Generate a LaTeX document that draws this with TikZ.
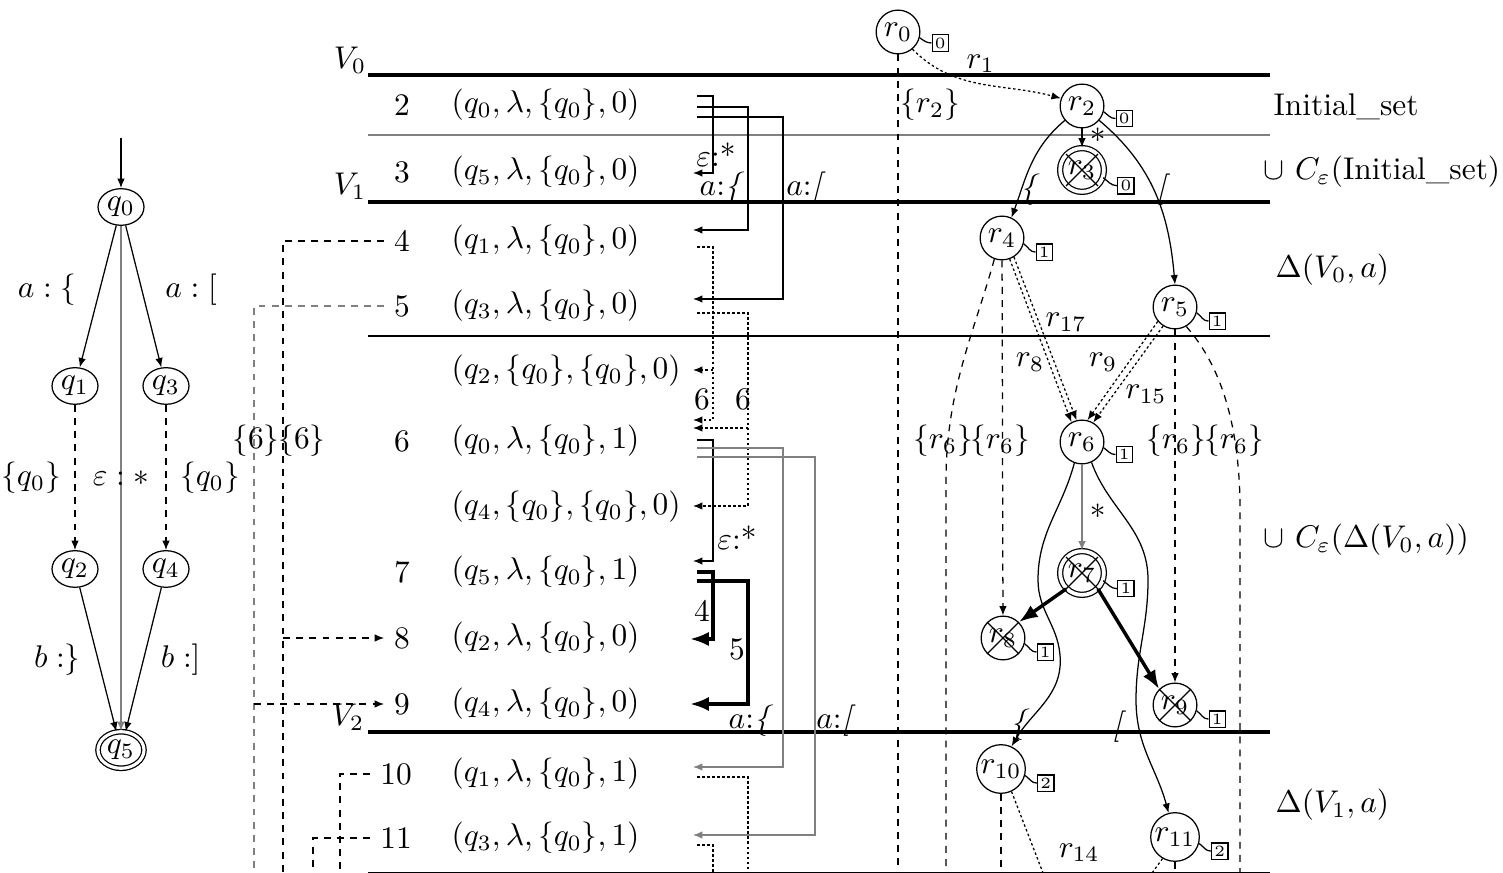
\documentclass[tikz,border=0pt]{standalone}
\usepackage{tikz}
\usetikzlibrary{arrows.meta,positioning,calc,shapes.geometric}

\begin{document}
\begin{tikzpicture}[
    x=0.0112cm, y=-0.0112cm,
    >={Latex[length=3pt,width=2.4pt]},
    st/.style={ellipse, draw, minimum width=0.515cm, minimum height=0.41cm, inner sep=0.5pt},
    fin/.style={st, double, double distance=1pt},
    run/.style={circle, draw, minimum size=0.49cm, inner sep=0.5pt},
    acc/.style={run, double, double distance=1.2pt},
    tag/.style={draw, font=\tiny, inner sep=0.9pt, minimum size=5pt},
    tie/.style={out=-35, in=180},
    level/.style={line width=1pt},
    num/.style={inner sep=3pt},
    row/.style={anchor=west, inner sep=0pt},
    side/.style={anchor=west, inner sep=0pt},
    hop/.style={dash pattern=on 2.2pt off 2pt},
    link/.style={dash pattern=on 0.8pt off 0.8pt},
    win/.style={-{Latex[length=6pt,width=4.5pt]}, line width=1.1pt}
]
\useasboundingbox (0,0) rectangle (1503,873);

% automaton
\node[st] (q0) at (121,207) {$q_0$};
\node[st] (q1) at (75,386) {$q_1$};
\node[st] (q3) at (166,386) {$q_3$};
\node[st] (q2) at (75,569) {$q_2$};
\node[st] (q4) at (166,569) {$q_4$};
\node[fin] (q5) at (121,750) {$q_5$};
\coordinate (q0in) at (121,138);

\draw[->] (q0in) -- (q0);
\draw[->] (q0) -- node[left=4pt, pos=0.45] {$a:\{$} (q1);
\draw[->] (q0) -- node[right=4pt, pos=0.45] {$a:[$} (q3);
\draw[->, draw=gray] (q0) -- node {$\varepsilon : *$} (q5);
\draw[->, hop] (q1) -- node[left=1pt] {$\{q_0\}$} (q2);
\draw[->, hop] (q3) -- node[right=1pt] {$\{q_0\}$} (q4);
\draw[->] (q2) -- node[left=2pt] {$b:\}$} (q5);
\draw[->] (q4) -- node[right=2pt] {$b:]$} (q5);

% levels
\draw[level] (368,75) -- (1270,75);
\draw[gray] (368,135) -- (1270,135);
\draw[level] (368,202) -- (1270,202);
\draw (368,336) -- (1270,336);
\draw[level] (368,732) -- (1270,732);
\draw (368,873) -- (1270,873);
\node (v0) at (350,60) {$V_0$};
\node (v1) at (350,186) {$V_1$};
\node (v2) at (348,717) {$V_2$};

% rows
\node[num] (n2) at (402,105) {2};
\node[num] (n3) at (402,172) {3};
\node[num] (n4) at (402,241) {4};
\node[num] (n5) at (402,306) {5};
\node[num] (n6) at (402,441) {6};
\node[num] (n7) at (402,572) {7};
\node[num] (n8) at (402,638) {8};
\node[num] (n9) at (402,704) {9};
\node[num] (n10) at (396,774) {10};
\node[num] (n11) at (396,838) {11};

\node[row] (t2) at (451,105) {$(q_0, \lambda, \{q_0\}, 0)$};
\node[row] (t3) at (451,172) {$(q_5, \lambda, \{q_0\}, 0)$};
\node[row] (t4) at (451,241) {$(q_1, \lambda, \{q_0\}, 0)$};
\node[row] (t5) at (451,306) {$(q_3, \lambda, \{q_0\}, 0)$};
\node[row] (ta) at (451,371) {$(q_2, \{q_0\}, \{q_0\}, 0)$};
\node[row] (t6) at (451,441) {$(q_0, \lambda, \{q_0\}, 1)$};
\node[row] (tb) at (451,507) {$(q_4, \{q_0\}, \{q_0\}, 0)$};
\node[row] (t7) at (451,572) {$(q_5, \lambda, \{q_0\}, 1)$};
\node[row] (t8) at (451,638) {$(q_2, \lambda, \{q_0\}, 0)$};
\node[row] (t9) at (451,704) {$(q_4, \lambda, \{q_0\}, 0)$};
\node[row] (t10) at (451,774) {$(q_1, \lambda, \{q_0\}, 1)$};
\node[row] (t11) at (451,838) {$(q_3, \lambda, \{q_0\}, 1)$};

% ports
\coordinate (o2a) at (697,96);
\coordinate (o2b) at (697,107);
\coordinate (o2c) at (697,117);
\coordinate (o4) at (697,247);
\coordinate (o5) at (697,313);
\coordinate (o6a) at (697,440);
\coordinate (o6b) at (697,448);
\coordinate (o6c) at (697,457);
\coordinate (o7a) at (697,572);
\coordinate (o7b) at (697,581);
\coordinate (o10) at (697,777);
\coordinate (o11) at (697,845);
\coordinate (i3) at (693,173);
\coordinate (i4) at (693,230);
\coordinate (i5) at (693,299);
\coordinate (ia) at (693,370);
\coordinate (i6a) at (693,420);
\coordinate (i6b) at (693,428);
\coordinate (ib) at (693,506);
\coordinate (i7) at (693,561);
\coordinate (i8) at (690,639);
\coordinate (i9) at (690,704);
\coordinate (i10) at (693,767);
\coordinate (i11) at (693,835);

\draw[->] (o2a) -| ($(i3)+(20,0)$) -- (i3);
\draw[->] (o2b) -| ($(i4)+(55,0)$) -- (i4);
\draw[->] (o2c) -| ($(i5)+(90,0)$) -- (i5);
\draw[->, link] (o4) -| ($(i6a)+(20,0)$) -- (i6a);
\draw[->, link] ($(ia)+(20,0)$) -- (ia);
\draw[->, link] (o5) -| ($(ib)+(55,0)$) -- (ib);
\draw[->, link] ($(i6b)+(55,0)$) -- (i6b);
\draw[->] (o6a) -| ($(i7)+(20,0)$) -- (i7);
\draw[->, gray] (o6b) -| ($(i10)+(90,0)$) -- (i10);
\draw[->, gray] (o6c) -| ($(i11)+(122,0)$) -- (i11);
\draw[win] (o7a) -| ($(i8)+(23,0)$) -- (i8);
\draw[win] (o7b) -| ($(i9)+(58,0)$) -- (i9);
\draw[link] (o10) -| (748,873);
\draw[link] (o11) -| (713,873);

\node at (716,155) {$\varepsilon$:*};
\node at (737,538) {$\varepsilon$:*};
\node at (702,399) {6};
\node at (743,399) {6};
\node at (702,611) {4};
\node at (737,649) {5};
\node at (722,188) {$a{:}$\textit{\{}};
\node at (806,188) {$a{:}$\textit{[}};
\node at (751,721) {$a{:}$\textit{\{}};
\node at (836,721) {$a{:}$\textit{[}};

% back links
\draw[hop] (n4.west) -| (283,873);
\draw[->, hop] (283,638) -- (n8.west);
\draw[hop, gray] (n5.west) -| (254,873);
\draw[->, hop] (254,704) -- (n9.west);
\draw[hop] (n10.west) -| (340,873);
\draw[hop] (n11.west) -| (313,873);
\node at (256,441) {$\{6\}$};
\node at (302,441) {$\{6\}$};

% run tree
\node[run] (r0) at (898,32) {$r_0$};
\node[run] (r2) at (1082,106) {$r_2$};
\node[acc] (r3) at (1082,170) {$r_3$};
\node[run] (r4) at (1002,238) {$r_4$};
\node[run] (r5) at (1175,307) {$r_5$};
\node[run] (r6) at (1082,442) {$r_6$};
\node[acc] (r7) at (1082,573) {$r_7$};
\node[run] (r8) at (1003,638) {$r_8$};
\node[run] (r9) at (1175,705) {$r_9$};
\node[run] (r10) at (1001,769) {$r_{10}$};
\node[run] (r11) at (1175,837) {$r_{11}$};
\draw (r3.45) -- (r3.225) (r3.135) -- (r3.-45);
\draw (r7.45) -- (r7.225) (r7.135) -- (r7.-45);
\draw (r8.45) -- (r8.225) (r8.135) -- (r8.-45);
\draw (r9.45) -- (r9.225) (r9.135) -- (r9.-45);

\node[tag, right=3.5pt of r0, yshift=-3.5pt] (b0) {0};
\node[tag, right=3.5pt of r2, yshift=-4pt] (b2) {0};
\node[tag, right=4pt of r3, yshift=-5pt] (b3) {0};
\node[tag, right=3.5pt of r4, yshift=-4.5pt] (b4) {1};
\node[tag, right=3.5pt of r5, yshift=-4.5pt] (b5) {1};
\node[tag, right=3.5pt of r6, yshift=-4pt] (b6) {1};
\node[tag, right=4pt of r7, yshift=-5pt] (b7) {1};
\node[tag, right=3.5pt of r8, yshift=-4.5pt] (b8) {1};
\node[tag, right=3.5pt of r9, yshift=-4.5pt] (b9) {1};
\node[tag, right=3.5pt of r10, yshift=-4.5pt] (b10) {2};
\node[tag, right=3.5pt of r11, yshift=-4.5pt] (b11) {2};
\draw (r0.-15) to[tie] (b0.west);
\draw (r2.-15) to[tie] (b2.west);
\draw (r3.-20) to[tie] (b3.west);
\draw (r4.-15) to[tie] (b4.west);
\draw (r5.-15) to[tie] (b5.west);
\draw (r6.-15) to[tie] (b6.west);
\draw (r7.-20) to[tie] (b7.west);
\draw (r8.-15) to[tie] (b8.west);
\draw (r9.-15) to[tie] (b9.west);
\draw (r10.-15) to[tie] (b10.west);
\draw (r11.-15) to[tie] (b11.west);

% tree edges
\draw[->, link] (r0.-50) to[out=-45, in=165] node[pos=0.5, above] {$r_1$} (r2.160);
\draw[hop] (r0) -- (898,873);
\node at (930,105) {$\{r_2\}$};
\draw[->] (r2) -- node[right=-1pt, pos=0.6] {*} (r3);
\draw[->] (r2.220) to[out=-140, in=70] (r4.65);
\draw[->] (r2.-40) to[out=-40, in=95] (r5.north);
\node at (1030,190) {\textit{\{}};
\node at (1163,190) {\textit{[}};
\draw[->, link] (r4.-70) -- (r6.118);
\draw[->, link] (r4.-58) -- (r6.104);
\draw[->, link] (r5.220) -- (r6.76);
\draw[->, link] (r5.238) -- (r6.60);
\node at (1066,322) {$r_{17}$};
\node at (1030,362) {$r_8$};
\node at (1103,362) {$r_9$};
\node at (1146,394) {$r_{15}$};
\draw[->, hop] (r4) -- (r8);
\draw[hop] (r4.250) .. controls (975,330) and (946,390) .. (946,480) -- (946,873);
\draw[->, hop] (r5) -- (r9);
\draw[hop] (r5.-60) .. controls (1220,365) and (1238,420) .. (1240,500) -- (1240,873);
\node at (943,441) {$\{r_6\}$};
\node at (1000,441) {$\{r_6\}$};
\node at (1176,441) {$\{r_6\}$};
\node at (1234,441) {$\{r_6\}$};
\draw[->, draw=gray] (r6) -- node[right=-1pt, pos=0.6] {*} (r7);
\draw[win] (r7.225) -- (r8.45);
\draw[win] (r7.-45) -- (r9.135);
\draw[->] (r6.250) to[out=-105, in=90] (1038,580) to[out=-90, in=95] (1060,655) to[out=-85, in=60] (r10.65);
\draw[->] (r6.-65) to[out=-70, in=90] (1148,580) to[out=-90, in=90] (1136,700) to[out=-90, in=105] (r11.105);
\node at (1020,725) {\textit{\{}};
\node at (1119,727) {\textit{[}};
\draw[hop] (r10) -- (1001,873);
\draw[link] (r10.-65) -- node[pos=0.75, right=4pt] {$r_{14}$} (1043,873);
\draw[link] (r11.240) -- (1152,873);
\draw[hop] (r11) -- (1175,873);

% phases
\node[side] at (1273,107) {Initial\_set};
\node[side] at (1263,172) {$\cup$ $C_\varepsilon$(Initial\_set)};
\node[side] at (1275,270) {$\Delta(V_0, a)$};
\node[side] at (1263,540) {$\cup$ $C_\varepsilon(\Delta(V_0, a))$};
\node[side] at (1275,805) {$\Delta(V_1, a)$};

\end{tikzpicture}
\end{document}
